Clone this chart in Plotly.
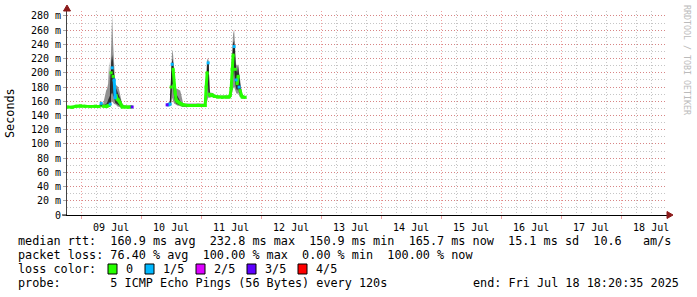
import plotly.graph_objects as go
import pandas as pd
import numpy as np

BASE = pd.Timestamp("2025-07-09 00:00:00")
START = pd.Timestamp("2025-07-08 18:20:35")
END = pd.Timestamp("2025-07-18 18:20:35")

# hours since 09 Jul 00:00 ; row with None = gap (100 % loss)
hours = [-5.6, -3.6, -2.0, -0.4, 1.6, 3.6, 5.6, 7.2, 8.0, 8.8, 10.0, 10.4, 10.8, 11.2, 11.6,
         12.0, 12.4, 12.8, 13.2, 13.6, 14.0, 14.4, 14.8, 15.2, 15.6, 16.0, 16.4, 17.6, 18.8,
         20.0, 20.4,
         27.0,
         34.4, 34.8, 35.6, 36.0, 36.4, 36.8, 37.2, 37.6, 38.0, 38.4, 38.8, 39.2, 39.6, 40.0,
         40.4, 40.8, 42.8, 44.8, 46.8, 48.8, 49.6, 50.0, 50.4, 50.8, 51.2, 51.6, 52.4, 53.2,
         54.8, 56.4, 58.0, 59.2, 59.6, 60.0, 60.4, 60.8, 61.2, 61.6, 62.0, 62.4, 62.8, 63.2,
         63.6, 64.0, 64.4, 65.6]
# median rtt (ms)
median = [152, 151.5, 153, 153.5, 153, 152.5, 153, 152.5, 157, 153, 152.5, 153, 154, 154, 156,
          200, 207, 195, 190, 165, 168, 163, 162, 160, 158, 155, 152, 152, 151.5,
          152, 152,
          None,
          155, 155, 156, 180, 212, 205, 182, 172, 162, 160, 159, 158, 157, 156,
          155, 155, 154, 154, 154.5, 154, 154, 180, 200, 214, 170, 168, 169, 167,
          166, 165.5, 166, 166, 168, 178, 205, 225, 237, 205, 190, 185, 195, 180,
          175, 168, 166, 165.5]
# fastest ping (ms)
ping_min = [151, 150.5, 152, 152.5, 152, 151.5, 152, 151.5, 152, 151.5, 151, 151, 152, 152, 153,
            158, 160, 158, 156, 155, 155, 153, 153, 152, 152, 151, 150.5, 150.5, 150,
            150.5, 150.5,
            None,
            153, 153, 153, 156, 165, 160, 157, 156, 155, 154, 154, 153, 153, 153,
            152, 152, 152, 151.5, 152, 152, 152, 155, 160, 165, 165, 165, 166, 165,
            164, 164, 164, 164, 165, 166, 170, 178, 180, 175, 172, 170, 172, 168,
            166, 165, 164, 164]
# slowest ping (ms)
ping_max = [153, 153, 154, 154.5, 154, 154, 155, 154, 160, 156, 175, 178, 185, 216, 190,
            250, 281, 240, 205, 185, 183, 182, 180, 176, 170, 165, 156, 154, 153.5,
            154, 154,
            None,
            157, 158, 160, 200, 233, 225, 200, 180, 178, 178, 177, 176, 175, 170,
            162, 157, 157, 157, 157, 157, 157, 200, 218, 221, 185, 172, 172, 170,
            168, 168, 168, 168, 178, 195, 230, 255, 261, 222, 212, 210, 212, 200,
            192, 178, 170, 167]
# 2nd fastest ping (ms)
ping_lo = [151.5, 151, 152.5, 153, 152.5, 152, 152.5, 152, 153, 152, 152, 152, 153, 153, 154,
           170, 172, 168, 165, 158, 158, 156, 155, 154, 153, 152, 151, 151, 151,
           151, 151,
           None,
           154, 154, 154, 160, 185, 180, 165, 160, 157, 156, 155, 155, 154, 154,
           153, 153, 153, 152.5, 153, 153, 153, 160, 175, 185, 167, 166, 167, 166,
           165, 165, 165, 165, 166, 170, 180, 195, 205, 185, 178, 175, 178, 172,
           170, 166, 165, 165]
# 2nd slowest ping (ms)
ping_hi = [152.5, 152, 153.5, 154, 153.5, 153, 153.5, 153, 158, 154, 156, 158, 162, 165, 168,
           215, 225, 215, 195, 180, 178, 175, 172, 168, 164, 160, 154, 153, 152.5,
           153, 153,
           None,
           156, 156, 158, 190, 220, 215, 195, 176, 170, 168, 165, 162, 160, 158,
           157, 156, 155.5, 155.5, 156, 155.5, 155.5, 190, 210, 219, 178, 170, 170, 168,
           167, 166.5, 167, 167, 172, 188, 218, 242, 245, 212, 205, 200, 210, 195,
           185, 172, 168, 166]
# lost pings out of 5
loss = [0, 0, 0, 0, 0, 0, 0, 0, 1, 0, 0, 0, 0, 0, 1,
        0, 1, 0, 1, 1, 0, 0, 0, 0, 0, 0, 0, 0, 0,
        0, 3,
        None,
        3, 1, 1, 0, 1, 0, 0, 0, 0, 0, 0, 0, 0, 0,
        0, 0, 0, 0, 0, 0, 0, 0, 0, 1, 0, 0, 0, 0,
        0, 0, 0, 0, 0, 0, 0, 0, 1, 0, 1, 0, 0, 1,
        0, 0, 0, 0]

loss_labels = ["0", "1/5", "2/5", "3/5", "4/5"]
loss_colors = ["#26ff00", "#00b8ff", "#dd00ff", "#5e00ff", "#ff0000"]

y_ticks = [0, 20, 40, 60, 80, 100, 120, 140, 160, 180, 200, 220, 240, 260, 280]
y_ticktext = ["0"] + [f"{v} m" for v in y_ticks[1:]]

stats_line1 = "median rtt:  160.9 ms avg  232.8 ms max  150.9 ms min  165.7 ms now  15.1 ms sd  10.6   am/s"
stats_line2 = "packet loss: 76.40 % avg  100.00 % max  0.00 % min  100.00 % now"
probe_line = "probe:       5 ICMP Echo Pings (56 Bytes) every 120s"
end_line = "end: Fri Jul 18 18:20:35 2025"

df = pd.DataFrame(dict(h=hours, med=median, mn=ping_min, mx=ping_max,
                       lo=ping_lo, hi=ping_hi, loss=loss))
df["t"] = BASE + pd.to_timedelta(df["h"], unit="h")
seg_id = df["med"].isna().cumsum()
segments = [g.dropna(subset=["med"]) for _, g in df.groupby(seg_id)]
segments = [s for s in segments if len(s)]

FONT = "DejaVu Sans Mono"
fig = go.Figure()

def band(seg, low, high, color):
    x = list(seg["t"]) + list(seg["t"][::-1])
    y = list(seg[high]) + list(seg[low][::-1])
    fig.add_trace(go.Scatter(x=x, y=y, fill="toself", fillcolor=color, mode="lines",
                             line=dict(width=0, color=color), hoverinfo="skip",
                             showlegend=False))

for seg in segments:
    band(seg, "mn", "mx", "#919191")
    band(seg, "lo", "hi", "#323232")
    fig.add_trace(go.Scatter(x=seg["t"], y=seg["med"], mode="lines",
                             line=dict(color="#202020", width=1), showlegend=False))
    for k, col in enumerate(loss_colors):
        yk = [v if l == k else None for v, l in zip(seg["med"], seg["loss"])]
        if all(v is None for v in yk):
            continue
        fig.add_trace(go.Scatter(x=seg["t"], y=yk, mode="lines+markers",
                                 connectgaps=False,
                                 line=dict(color=col, width=3),
                                 marker=dict(symbol="square", size=3,
                                             color=col, line=dict(width=0)),
                                 showlegend=False))

MAJ = "rgba(230,80,80,0.55)"
MIN = "rgba(150,150,150,0.55)"
fig.update_layout(
    width=697, height=297,
    margin=dict(l=67, r=30, t=11, b=82),
    paper_bgcolor="white", plot_bgcolor="white",
    font=dict(family=FONT, size=10, color="black"),
    xaxis=dict(type="date", range=[START, END], dtick=86400000, tick0="2025-07-09",
               ticklabelmode="period", tickformat="%d %b",
               showgrid=True, gridcolor=MAJ, griddash="1px,2px", gridwidth=1,
               minor=dict(dtick=6 * 3600000, tick0="2025-07-09", showgrid=True,
                          gridcolor=MIN, griddash="1px,2px", gridwidth=1),
               ticks="outside", ticklen=3, tickcolor=MAJ,
               showline=True, linecolor="black", linewidth=1, zeroline=False,
               tickfont=dict(family=FONT, size=10)),
    yaxis=dict(range=[0, 287], tickvals=y_ticks, ticktext=y_ticktext,
               showgrid=True, gridcolor=MAJ, griddash="1px,2px", gridwidth=1,
               minor=dict(dtick=10, showgrid=True, gridcolor=MIN, griddash="1px,2px",
                          gridwidth=1),
               ticks="outside", ticklen=3, tickcolor="#aaaaaa",
               showline=True, linecolor="#444444", linewidth=1, zeroline=False,
               tickfont=dict(family=FONT, size=10)),
)

def px_x(px):
    return (px - 67) / 600.0

def px_y(py):
    return (215 - py) / 204.0

def nb(s):
    return s.replace(" ", "\u00a0")

ann = []
ann.append(dict(text="Seconds", x=px_x(10), y=px_y(113), textangle=-90,
                font=dict(size=11.8)))
ann.append(dict(text=nb("RRDTOOL / TOBI OETIKER"), x=px_x(687), y=px_y(60), textangle=90,
                font=dict(size=8.3, color="#bbbbbb")))
ann.append(dict(text=nb(stats_line1), x=px_x(16), y=px_y(241), xanchor="left",
                font=dict(size=11.8)))
ann.append(dict(text=nb(stats_line2), x=px_x(16), y=px_y(255), xanchor="left",
                font=dict(size=11.8)))
ann.append(dict(text=nb("loss color:"), x=px_x(16), y=px_y(269), xanchor="left",
                font=dict(size=11.8)))
ann.append(dict(text=nb(probe_line), x=px_x(16), y=px_y(283), xanchor="left",
                font=dict(size=11.8)))
ann.append(dict(text=nb(end_line), x=px_x(681), y=px_y(283), xanchor="right",
                font=dict(size=11.8)))

box_x = [108, 145, 196, 247, 298]
shapes = []
for bx, lab, col in zip(box_x, loss_labels, loss_colors):
    shapes.append(dict(type="rect", xref="paper", yref="paper",
                       x0=px_x(bx), x1=px_x(bx + 9), y0=px_y(274), y1=px_y(264),
                       fillcolor=col, line=dict(color="black", width=1)))
    ann.append(dict(text=lab, x=px_x(bx + 15.5), y=px_y(269), xanchor="left",
                    font=dict(size=11.8)))

ARROW = "#8b1a1a"
# axis arrows and x-axis stub left of the y axis
shapes.append(dict(type="path", xref="paper", yref="paper",
                   xsizemode="pixel", ysizemode="pixel", xanchor=0, yanchor=1,
                   path="M -3.5,0 L 3.5,0 L 0,6 Z", fillcolor=ARROW,
                   line=dict(color=ARROW, width=1)))
shapes.append(dict(type="path", xref="paper", yref="paper",
                   xsizemode="pixel", ysizemode="pixel", xanchor=1, yanchor=0,
                   path="M 0,-3.5 L 0,3.5 L 6,0 Z", fillcolor=ARROW,
                   line=dict(color=ARROW, width=1)))
shapes.append(dict(type="line", xref="paper", yref="paper",
                   x0=px_x(62), x1=0, y0=0, y1=0, line=dict(color="black", width=1)))

for a in ann:
    a.update(xref="paper", yref="paper", showarrow=False)
    a.setdefault("xanchor", "center")
    a.setdefault("yanchor", "middle")
    a["font"] = dict(family=FONT, color=a["font"].get("color", "black"), size=a["font"]["size"])

fig.update_layout(annotations=ann, shapes=shapes)
fig.write_html("out.html")
